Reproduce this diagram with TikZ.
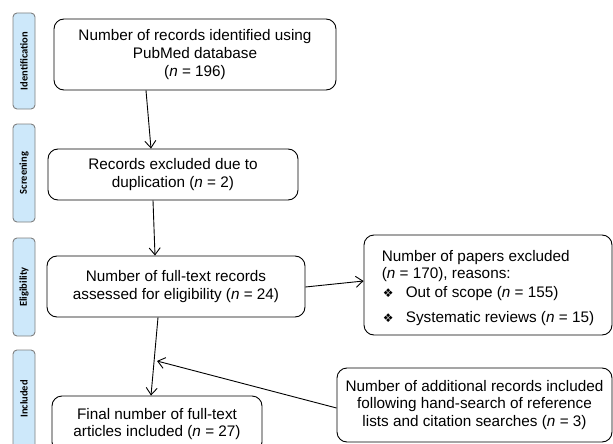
\documentclass[tikz,border=0pt]{standalone}
\usepackage{fontspec}
\setmainfont{Liberation Sans}
\newfontfamily\labfont{Carlito}
\newfontfamily\djfont{DejaVu Sans}
\usetikzlibrary{arrows.meta}
\definecolor{labfill}{HTML}{CDE8FA}
\definecolor{labdraw}{HTML}{808080}
\begin{document}
\begin{tikzpicture}[x=1pt,y=-1pt,
  box/.style={draw=black,line width=0.9pt,rounded corners=10pt,inner sep=0pt,align=center,
    font=\fontsize{15.3}{17.6}\selectfont},
  lab/.style={draw=labdraw,line width=0.9pt,fill=labfill,rounded corners=4pt,rotate=90,inner sep=0pt,
    minimum height=22pt,font=\labfont\bfseries\fontsize{10.5}{11}\selectfont},
  arr/.style={line width=0.9pt,-{Straight Barb[length=7pt,width=11pt,line width=0.9pt]}}]
\clip (0,0) rectangle (613,444);
\fill[white] (0,0) rectangle (613,444);
% side labels
\node[lab,minimum width=96pt] (lid) at (24,61) {Identification};
\node[lab,minimum width=98pt] (lsc) at (24,173) {Screening};
\node[lab,minimum width=98pt] (lel) at (24,287) {Eligibility};
\node[lab,minimum width=98pt] (lin) at (24,399) {Included};
% boxes
\node[box,minimum width=282pt,minimum height=71pt] (top) at (195,54.5)
  {Number of records identified using\\PubMed database\\(\textit{n} = 196)};
\node[box,minimum width=250pt,minimum height=51pt] (scr) at (173,174.5)
  {Records excluded due to\\duplication (\textit{n} = 2)};
\node[box,minimum width=258pt,minimum height=61pt] (elig) at (176,286.5)
  {Number of full-text records\\assessed for eligibility (\textit{n} = 24)};
\node[box,minimum width=210pt,minimum height=56pt] (final) at (157,424)
  {Final number of full-text\\articles included (\textit{n} = 27)};
\node[box,minimum width=248pt,minimum height=100pt,align=left] (excl) at (488,285)
  {\rule{0pt}{17pt}Number of papers excluded\\(\textit{n} = 170), reasons:\\[1pt]
   \makebox[24pt][l]{\hspace{1pt}\djfont\fontsize{12}{12}\selectfont ❖}Out of scope (\textit{n} = 155)\\[8pt]
   \makebox[24pt][l]{\hspace{1pt}\djfont\fontsize{12}{12}\selectfont ❖}Systematic reviews (\textit{n} = 15)};
\node[box,minimum width=275pt,minimum height=74pt] (add) at (474.5,405)
  {Number of additional records included\\following hand-search of reference\\lists and citation searches (\textit{n} = 3)};
% connectors
\coordinate (m) at (157,361);
\draw[arr] ([xshift=-49pt]top.south) -- ([xshift=-22pt]scr.north);
\draw[arr] ([xshift=-20pt]scr.south) -- ([xshift=-21pt]elig.north);
\draw[arr] ([xshift=-18pt]elig.south) -- ([xshift=-6pt]final.north);
\draw[arr] ([yshift=-0.5pt]elig.east) -- ([yshift=4pt]excl.west);
\draw[arr] ([yshift=-3pt]add.west) -- (m);
\end{tikzpicture}
\end{document}
